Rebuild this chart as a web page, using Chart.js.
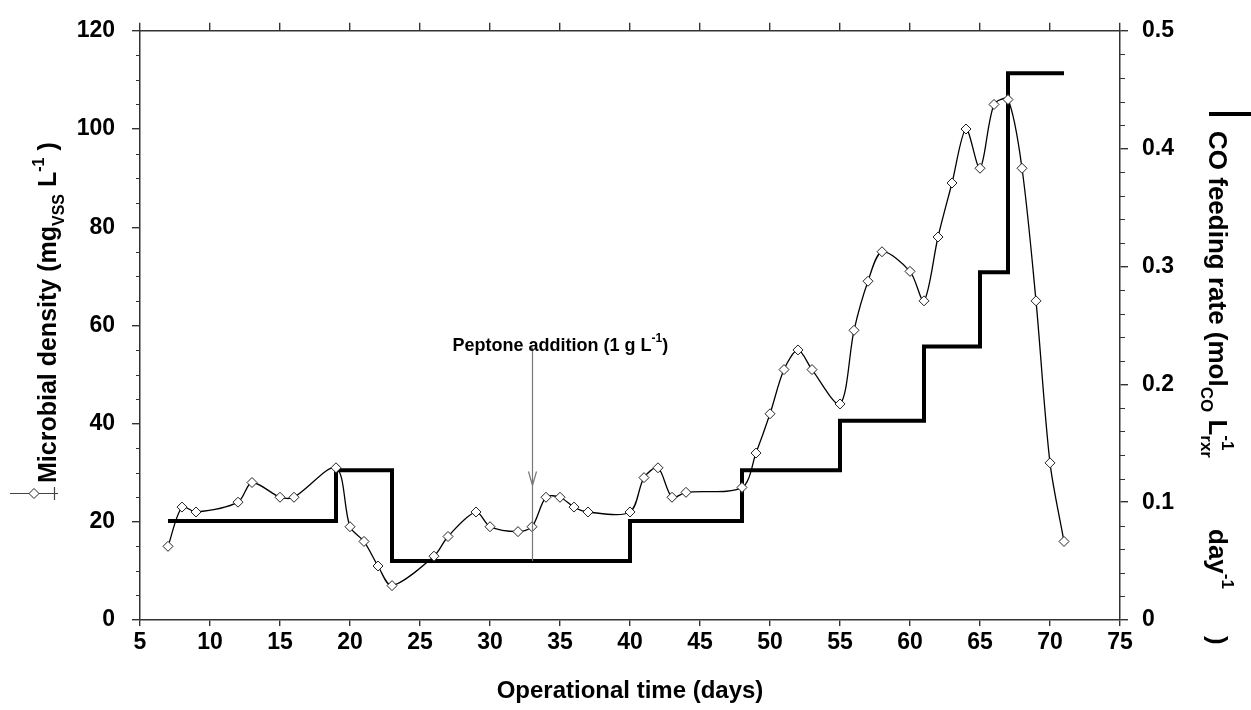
<!DOCTYPE html>
<html>
<head>
<meta charset="utf-8">
<script src="https://cdn.jsdelivr.net/npm/chart.js@4.4.1/dist/chart.umd.min.js"></script>
<style>
html,body{margin:0;padding:0;background:#fff;}
#wrap{width:1251px;height:710px;position:relative;}
</style>
</head>
<body>
<div id="wrap"><canvas id="c" width="1251" height="710"></canvas></div>
<script>
// ---- data ----
const days = [7,8,9,12,13,15,16,19,20,21,22,23,26,27,29,30,32,33,34,35,36,37,40,41,42,43,44,48,49,50,51,52,53,55,56,57,58,60,61,62,63,64,65,66,67,68,69,70,71];
const density = [15,23,22,24,28,25,25,31,19,16,11,7,13,17,22,19,18,19,25,25,23,22,22,29,31,25,26,27,34,42,51,55,51,44,59,69,75,71,65,78,89,100,92,105,106,92,65,32,16];
const feedDays = [7,19,23,40,48,55,61,65,67,71];
const feedRate = [0.084,0.127,0.05,0.084,0.127,0.169,0.232,0.295,0.464,0.464];
const peptoneDay = 33;
const peptoneLabel = ["Peptone addition (1 g L", "-1", ")"];
const xTitle = "Operational time (days)";
const yTitleParts = ["Microbial density (mg", "VSS", " L", "-1", " )"];
const y2TitleParts = ["CO feeding rate (mol", "CO", " L", "-1", "rxr", "day", "-1", ")"];

const FONT = '"Liberation Sans", Arial, Helvetica, sans-serif';
const AX = '#333';

function rich(ctx, parts, x0, y0, big, small) {
  let x = x0, pending = 0;
  for (const p of parts) {
    const sz = p.k === 'n' ? big : small;
    ctx.font = 'bold ' + sz + 'px ' + FONT;
    if (p.at !== undefined) x = x0 + p.at;
    const dy = p.k === 'sub' ? big * 0.32 : (p.k === 'sup' ? -big * 0.5 : 0);
    ctx.fillText(p.t, x, y0 + dy);
    const w = ctx.measureText(p.t).width;
    if (p.hold) { pending = w; }
    else { x += Math.max(w, pending); pending = 0; }
  }
  return x - x0;
}

const decor = {
  id: 'decor',
  afterDatasetsDraw(chart) {
    const ctx = chart.ctx;
    const xs = chart.scales.x, ys = chart.scales.y, y2 = chart.scales.y2;
    ctx.save();
    // minor ticks
    ctx.strokeStyle = AX; ctx.lineWidth = 1.2;
    ctx.beginPath();
    for (let v = 0; v <= 120; v += 5) {
      if (v % 20 === 0) continue;
      const p = Math.round(ys.getPixelForValue(v)) + 0.5;
      ctx.moveTo(xs.left, p); ctx.lineTo(xs.left - 4, p);
    }
    for (let i = 0; i <= 25; i++) {
      if (i % 5 === 0) continue;
      const p = Math.round(y2.getPixelForValue(i * 0.02)) + 0.5;
      ctx.moveTo(xs.right, p); ctx.lineTo(xs.right + 5, p);
    }
    ctx.stroke();

    // peptone arrow
    const px = Math.round(xs.getPixelForValue(peptoneDay)) + 0.5;
    const top = ys.getPixelForValue(55.5);
    const bot = y2.getPixelForValue(feedRate[2]);
    const tip = ys.getPixelForValue(27.4);
    ctx.strokeStyle = '#777'; ctx.lineWidth = 1.2;
    ctx.beginPath();
    ctx.moveTo(px, top); ctx.lineTo(px, bot);
    ctx.moveTo(px - 4, tip - 14); ctx.lineTo(px, tip); ctx.lineTo(px + 4, tip - 14);
    ctx.stroke();
    ctx.fillStyle = '#000';
    ctx.textBaseline = 'alphabetic';
    rich(ctx, [{t: peptoneLabel[0], k: 'n'}, {t: peptoneLabel[1], k: 'sup'}, {t: peptoneLabel[2], k: 'n'}],
      px - 80, ys.getPixelForValue(54.8), 18, 12);

    // x title
    ctx.font = 'bold 24px ' + FONT;
    ctx.textAlign = 'center';
    ctx.fillText(xTitle, (xs.left + xs.right) / 2, 698);
    ctx.textAlign = 'left';

    // left title (rotated)
    ctx.save();
    ctx.translate(56, 483);
    ctx.rotate(-Math.PI / 2);
    rich(ctx, [{t: yTitleParts[0], k: 'n'}, {t: yTitleParts[1], k: 'sub'}, {t: yTitleParts[2], k: 'n'},
      {t: yTitleParts[3], k: 'sup'}, {t: yTitleParts[4], k: 'n'}], 0, 0, 25, 16);
    ctx.restore();

    // left legend swatch
    ctx.strokeStyle = '#444'; ctx.lineWidth = 1.2;
    ctx.beginPath();
    ctx.moveTo(10, 493.5); ctx.lineTo(58, 493.5);
    ctx.moveTo(54.5, 487); ctx.lineTo(54.5, 500);
    ctx.stroke();
    ctx.fillStyle = '#fff'; ctx.strokeStyle = '#222'; ctx.lineWidth = 1;
    ctx.beginPath();
    ctx.moveTo(34, 488.5); ctx.lineTo(39, 493.5); ctx.lineTo(34, 498.5); ctx.lineTo(29, 493.5); ctx.closePath();
    ctx.fill(); ctx.stroke();

    // right legend swatch
    ctx.strokeStyle = '#000'; ctx.lineWidth = 4;
    ctx.beginPath(); ctx.moveTo(1209, 114); ctx.lineTo(1251, 114); ctx.stroke();

    // right title (rotated clockwise)
    ctx.fillStyle = '#000';
    ctx.save();
    ctx.translate(1209, 131);
    ctx.rotate(Math.PI / 2);
    rich(ctx, [{t: y2TitleParts[0], k: 'n'}, {t: y2TitleParts[1], k: 'sub'}, {t: y2TitleParts[2], k: 'n'},
      {t: y2TitleParts[3], k: 'sup', hold: true}, {t: y2TitleParts[4], k: 'sub'},
      {t: y2TitleParts[5], k: 'n', at: 398}, {t: y2TitleParts[6], k: 'sup'}, {t: y2TitleParts[7], k: 'n', at: 505}], 0, 0, 26, 17);
    ctx.restore();
    ctx.restore();
  }
};

const tickFont = {family: FONT, size: 23, weight: 'bold'};
const gridCommon = {drawOnChartArea: false, drawTicks: true, color: AX, lineWidth: 1.4};
const borderCommon = {display: true, color: AX, width: 1.5};

new Chart(document.getElementById('c'), {
  type: 'line',
  data: {
    datasets: [
      {
        label: 'Microbial density',
        data: days.map((d, i) => ({x: d, y: density[i]})),
        yAxisID: 'y', xAxisID: 'x',
        borderColor: '#000', borderWidth: 1.3,
        tension: 0.3,
        pointStyle: 'rectRot', pointRadius: 5,
        pointBackgroundColor: '#fff', pointBorderColor: '#222', pointBorderWidth: 1,
        order: 0
      },
      {
        label: 'CO feeding rate',
        data: feedDays.map((d, i) => ({x: d, y: feedRate[i]})),
        yAxisID: 'y2', xAxisID: 'x',
        stepped: 'before',
        borderColor: '#000', borderWidth: 4,
        borderJoinStyle: 'miter', borderCapStyle: 'butt',
        pointRadius: 0,
        order: 1
      }
    ]
  },
  options: {
    responsive: false,
    animation: false,
    devicePixelRatio: 1,
    layout: {padding: 0},
    plugins: {legend: {display: false}, tooltip: {enabled: false}},
    scales: {
      x: {
        type: 'linear', position: 'bottom', min: 5, max: 75,
        ticks: {stepSize: 5, autoSkip: false, maxRotation: 0, font: tickFont, color: '#000', padding: 3},
        grid: Object.assign({}, gridCommon, {tickLength: 6}),
        border: borderCommon,
        afterFit: s => { s.height = 90; }
      },
      xTop: {
        type: 'linear', position: 'top', min: 5, max: 75,
        ticks: {stepSize: 5, autoSkip: false, display: false},
        grid: Object.assign({}, gridCommon, {tickLength: 8}),
        border: borderCommon,
        afterFit: s => { s.height = 24; }
      },
      y: {
        type: 'linear', position: 'left', min: 0, max: 120,
        ticks: {stepSize: 20, autoSkip: false, font: tickFont, color: '#000', padding: 17},
        grid: Object.assign({}, gridCommon, {tickLength: 8}),
        border: borderCommon,
        afterFit: s => { s.width = 140; }
      },
      y2: {
        type: 'linear', position: 'right', min: 0, max: 0.5,
        ticks: {stepSize: 0.1, autoSkip: false, font: tickFont, color: '#000', padding: 14,
          callback: v => (Math.abs(v) < 1e-9 ? '0' : Number(v).toFixed(1))},
        grid: Object.assign({}, gridCommon, {tickLength: 8}),
        border: borderCommon,
        afterFit: s => { s.width = 131; }
      }
    }
  },
  plugins: [decor]
});
</script>
</body>
</html>
